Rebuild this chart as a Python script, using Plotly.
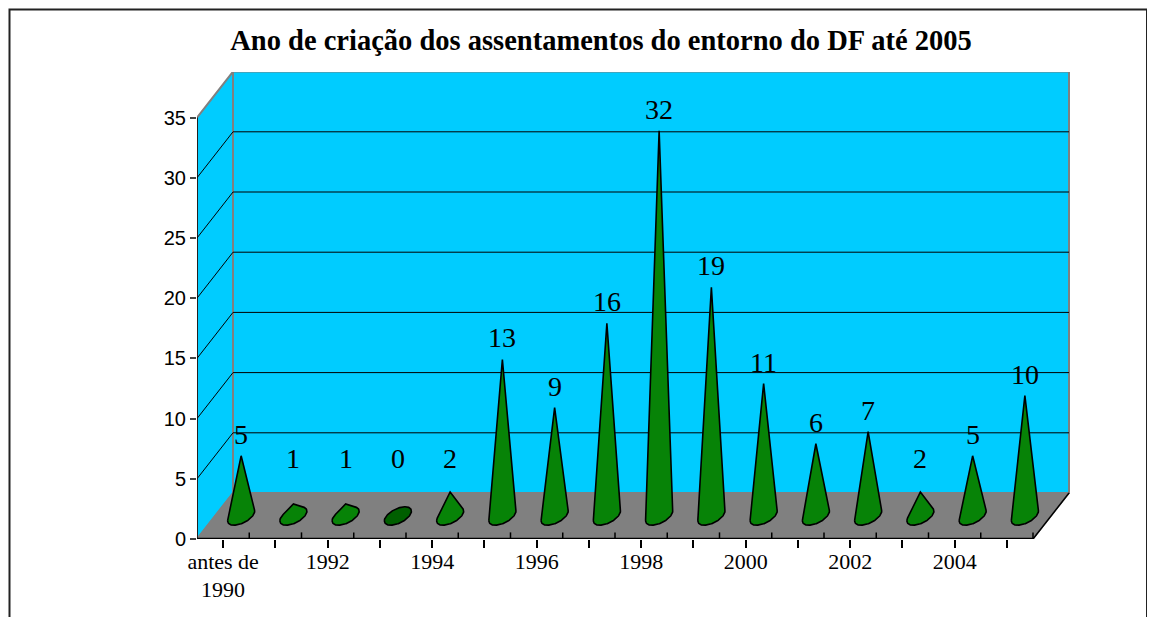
import numpy as np
import plotly.graph_objects as go

# ---------------- data ----------------
categories = ["antes de 1990", "1991", "1992", "1993", "1994", "1995", "1996", "1997",
              "1998", "1999", "2000", "2001", "2002", "2003", "2004", "2005"]
values = [5, 1, 1, 0, 2, 13, 9, 16, 32, 19, 11, 6, 7, 2, 5, 10]
y_tick_values = [0, 5, 10, 15, 20, 25, 30, 35]
title_text = "Ano de criação dos assentamentos do entorno do DF até 2005"

# ---------------- geometry (3D oblique look) ----------------
W, H = 1155, 617
OFF = 8               # page body margin offset
PW, PH = 873, 467     # plot area size (px)
L_M = 197 - OFF
T_M = 72 - OFF
R_M = W - L_M - PW
B_M = H - T_M - PH
PX_X = 52.25                # px per category
PX_Y = 12.04                # px per value unit
DX = 36 / PX_X              # depth offset (x, in category units)
DY = 46 / PX_Y              # depth offset (y, in value units)
N = len(categories)
X0, X1 = -0.5, N - 0.5
YMAX = 35
xr = [X0, X0 + PW / PX_X]
yr = [0, PH / PX_Y]

WALL = "#00CCFF"
FLOOR = "#808080"
EDGE = "#808080"
CONE = "#078307"
CONE_DARK = "#005F00"


def hull(pts):
    pts = sorted(set(pts))
    def cross(o, a, b):
        return (a[0]-o[0])*(b[1]-o[1]) - (a[1]-o[1])*(b[0]-o[0])
    lower, upper = [], []
    for p in pts:
        while len(lower) >= 2 and cross(lower[-2], lower[-1], p) <= 0:
            lower.pop()
        lower.append(p)
    for p in reversed(pts):
        while len(upper) >= 2 and cross(upper[-2], upper[-1], p) <= 0:
            upper.pop()
        upper.append(p)
    return lower[:-1] + upper[:-1]


fig = go.Figure()

shapes = []
# left side wall
shapes.append(dict(type="path", layer="below",
                   path=f"M {X0},0 L {X0},{YMAX} L {X0+DX},{YMAX+DY} L {X0+DX},{DY} Z",
                   fillcolor=WALL, line=dict(color=EDGE, width=2)))
# back wall
shapes.append(dict(type="rect", layer="below", x0=X0+DX, x1=X1+DX, y0=DY, y1=YMAX+DY,
                   fillcolor=WALL, line=dict(color=EDGE, width=2)))
# floor
shapes.append(dict(type="path", layer="below",
                   path=f"M {X0},0 L {X1},0 L {X1+DX},{DY} L {X0+DX},{DY} Z",
                   fillcolor=FLOOR, line=dict(color=EDGE, width=1.5)))
# gridlines
for v in y_tick_values[1:-1]:
    shapes.append(dict(type="line", layer="below", x0=X0+DX, x1=X1+DX, y0=v+DY, y1=v+DY,
                       line=dict(color="black", width=1)))
    shapes.append(dict(type="line", layer="below", x0=X0, x1=X0+DX, y0=v, y1=v+DY,
                       line=dict(color="black", width=1)))
# floor right edge
shapes.append(dict(type="line", layer="below", x0=X1, x1=X1+DX, y0=0, y1=DY,
                   line=dict(color="black", width=1.5)))
# front axes
shapes.append(dict(type="line", layer="above", x0=X0, x1=X0, y0=0, y1=YMAX,
                   line=dict(color="black", width=1.5)))
shapes.append(dict(type="line", layer="above", x0=X0, x1=X1, y0=0, y1=0,
                   line=dict(color="black", width=2.5)))
# small ticks at category boundaries (above the axis)
for i in range(N):
    xb = i + 0.5
    shapes.append(dict(type="line", layer="above", x0=xb, x1=xb, y0=0, y1=0.55,
                       line=dict(color="black", width=1.5)))

# outer chart frame (paper coordinates; given in target-page pixels)
def px2paper_x(px):
    return (px - OFF - L_M) / PW
def px2paper_y(py):
    return (H - B_M - (py - OFF)) / PH
shapes.append(dict(type="rect", xref="paper", yref="paper",
                   x0=px2paper_x(9.5), x1=px2paper_x(1147),
                   y0=px2paper_y(640), y1=px2paper_y(9.5),
                   line=dict(color="#222222", width=2), fillcolor="rgba(0,0,0,0)"))

# cones
t = np.linspace(0, 2*np.pi, 160, endpoint=False)
A, B = 0.22, 0.20
for i, v in enumerate(values):
    cx, cy = i + DX/2, DY/2
    ex = cx + A*np.cos(t) + B*DX*np.sin(t)
    ey = cy + B*DY*np.sin(t)
    pts = list(zip(np.round(ex, 6), np.round(ey, 6)))
    if v > 0:
        pts.append((round(cx, 6), round(cy + v, 6)))
    hp = hull(pts)
    hp.append(hp[0])
    fig.add_trace(go.Scatter(
        x=[p[0] for p in hp], y=[p[1] for p in hp],
        mode="lines", fill="toself",
        fillcolor=CONE if v > 0 else CONE_DARK,
        line=dict(color="black", width=1.6),
        hoverinfo="skip", showlegend=False))
    fig.add_annotation(x=cx, y=cy + max(v, 3), xref="x", yref="y",
                       text=str(v), showarrow=False, yanchor="bottom", yshift=4,
                       font=dict(family="Liberation Serif", size=28, color="black"))

# x tick labels (every other category)
tick_text = []
for i, c in enumerate(categories):
    if i % 2 == 0:
        tick_text.append("antes de" if c.startswith("antes") else c)
    else:
        tick_text.append("")
fig.add_annotation(x=0, y=0, xref="x", yref="paper", text=categories[0].split(" ")[-1],
                   showarrow=False, yanchor="middle", yshift=-50,
                   font=dict(family="Liberation Serif", size=22, color="black"))

fig.update_layout(
    width=W, height=H,
    margin=dict(l=L_M, r=R_M, t=T_M, b=B_M),
    paper_bgcolor="white", plot_bgcolor="white",
    shapes=shapes,
    title=dict(text="<b>" + title_text + "</b>", x=(601 - OFF)/W, xref="container",
               xanchor="center", y=1 - (40 - OFF)/H, yref="container", yanchor="middle",
               font=dict(family="Liberation Serif", size=28.5, color="black")),
    xaxis=dict(range=xr, tickmode="array", tickvals=list(range(N)), ticktext=tick_text,
               ticks="outside", ticklen=8, tickwidth=1.5, tickcolor="black",
               ticklabelstandoff=-5,
               showgrid=False, zeroline=False, showline=False,
               tickfont=dict(family="Liberation Serif", size=22, color="black")),
    yaxis=dict(range=yr, tickmode="array", tickvals=y_tick_values,
               ticks="outside", ticklen=6, tickwidth=1.5, tickcolor="#444444",
               showgrid=False, zeroline=False, showline=False,
               tickfont=dict(family="Arial, Liberation Sans", size=20, color="black")),
)

fig.write_html("out.html")
